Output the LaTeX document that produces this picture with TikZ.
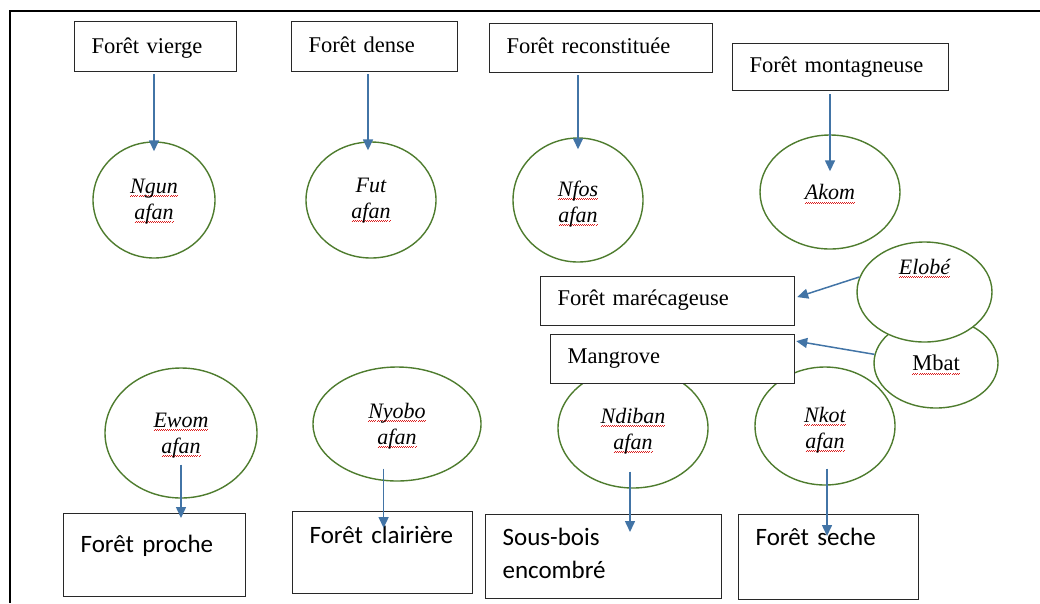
\documentclass[tikz,border=0pt]{standalone}
\usepackage{fontspec}
\setmainfont{Liberation Serif}
\newfontfamily\carlito{Carlito}
\usetikzlibrary{shapes.geometric,arrows.meta}
\definecolor{boxc}{RGB}{40,40,40}
\definecolor{ellc}{RGB}{78,124,46}
\definecolor{arrc}{RGB}{66,116,166}
\definecolor{splc}{RGB}{220,30,30}
\newsavebox\splbox
\newcommand\spl[1]{\leavevmode\sbox\splbox{#1}\rlap{\color{splc}\raisebox{-4pt}[0pt][0pt]{\hbox to \wd\splbox{\xleaders\hbox to 2pt{\rule{1pt}{0.9pt}\raisebox{0.9pt}{\rule{1pt}{0.9pt}}}\hfill}}}\usebox\splbox}
\begin{document}
\begin{tikzpicture}[x=1pt,y=-1pt,
  box/.style={draw=boxc, line width=1.2pt, fill=white, inner xsep=17pt, inner ysep=0pt,
    align=left, anchor=north west, font=\fontsize{22.5}{26}\selectfont},
  sbox/.style={box, font=\carlito\fontsize{25}{33}\selectfont},
  ell/.style={ellipse, draw=ellc, line width=1.4pt, fill=white, inner sep=0pt,
    align=center, font=\itshape\fontsize{22}{26}\selectfont},
  ell2/.style={ell, text width=72pt, text height=16pt},
  arr/.style={draw=arrc, line width=1.5pt, -{Triangle[length=11pt,width=10pt]}}]
\useasboundingbox (0,0) rectangle (1040,603);
\draw[line width=2.4pt] (1040,11) -- (10,11) -- (10,603);

% top boxes
\node[box, text width=128pt, text height=32pt, text depth=18pt] (vierge) at (74,21) {Forêt vierge};
\node[box, text width=132pt, text height=31pt, text depth=19pt] (dense) at (291,21) {Forêt dense};
\node[box, text width=189pt, text height=30pt, text depth=19pt] (recon) at (489,23) {Forêt reconstituée};
\node[box, text width=182pt, text height=29pt, text depth=18pt] (montagne) at (732,43) {Forêt montagneuse};

% top ellipses
\node[ell2, minimum width=122pt, minimum height=116pt, text depth=30pt] (ngun) at (154,200) {\spl{Ngun}\\\spl{afan}};
\node[ell2, minimum width=130pt, minimum height=116pt, text depth=32pt] (fut) at (371,200) {Fut\\\spl{afan}};
\node[ell2, minimum width=130pt, minimum height=124pt, text depth=24pt] (nfos) at (578,200) {\spl{Nfos}\\\spl{afan}};
\node[ell, minimum width=140pt, minimum height=114pt] (akom) at (830,192) {\spl{Akom}};

% middle right
\node[ell, minimum width=124pt, minimum height=90pt, font=\fontsize{22.5}{22}\selectfont] (mbat) at (936,363) {\spl{Mbat}};
\node[ell, minimum width=135pt, minimum height=100pt, text height=14pt, text depth=50pt] (elobe) at (924.5,292) {\spl{Elobé}};

% bottom ellipses
\node[ell2, minimum width=152pt, minimum height=130pt, text depth=28pt] (ewom) at (181,433) {\spl{Ewom}\\\spl{afan}};
\node[ell2, minimum width=168pt, minimum height=114pt, text depth=28pt] (nyobo) at (397,424) {\spl{Nyobo}\\\spl{afan}};
\node[ell2, minimum width=150pt, minimum height=120pt, text depth=26pt] (ndiban) at (633,428) {\spl{Ndiban}\\\spl{afan}};
\node[ell2, minimum width=140pt, minimum height=118pt, text depth=24pt] (nkot) at (825,426) {\spl{Nkot}\\\spl{afan}};

% middle boxes
\node[box, text width=220pt, text height=29pt, text depth=20pt] (mareca) at (540,276) {Forêt marécageuse};
\node[box, text width=210pt, text height=29pt, text depth=20pt] (mangrove) at (550,334) {Mangrove};

% bottom boxes
\node[sbox, text width=148pt, text height=39pt, text depth=44pt] (proche) at (63,513) {Forêt proche};
\node[sbox, text width=146pt, text height=32pt, text depth=50pt] (clairiere) at (292,511) {Forêt clairière};
\node[sbox, text width=202pt, text height=31pt, text depth=53pt] (sousbois) at (485,514) {Sous-bois\\encombré};
\node[sbox, text width=146pt, text height=31pt, text depth=54pt] (seche) at (738,514) {Forêt seche};

% arrows top
\draw[arr, shorten <=2pt, shorten >=-10pt] (ngun.north |- vierge.south) -- (ngun.north);
\draw[arr, shorten <=2pt, shorten >=-9pt] ([xshift=-3pt]fut.north |- dense.south) -- ([xshift=-3pt]fut.north);
\draw[arr, shorten <=2pt, shorten >=-12pt] (nfos.north |- recon.south) -- (nfos.north);
\draw[arr, shorten <=3pt, shorten >=-37pt] (akom.north |- montagne.south) -- (akom.north);

% arrows middle
\draw[arr] (elobe.167) -- ([xshift=2pt,yshift=4pt]mareca.east);
\draw[arr] (mbat.172) -- ([xshift=1pt,yshift=18pt]mangrove.east);

% arrows bottom
\draw[arr, shorten <=-34pt, shorten >=-5pt] (ewom.south) -- (ewom.south |- proche.north);
\draw[arr, shorten <=-13pt, shorten >=-17pt] ([xshift=1pt]clairiere.north |- nyobo.south) -- ([xshift=1pt]clairiere.north);
\draw[arr, shorten <=-17pt, shorten >=-18pt] ([xshift=-3pt]ndiban.south) -- ([xshift=-3pt]ndiban.south |- sousbois.north);
\draw[arr, shorten <=-17pt, shorten >=-22pt] ([xshift=2pt]nkot.south) -- ([xshift=2pt]nkot.south |- seche.north);
\end{tikzpicture}
\end{document}
